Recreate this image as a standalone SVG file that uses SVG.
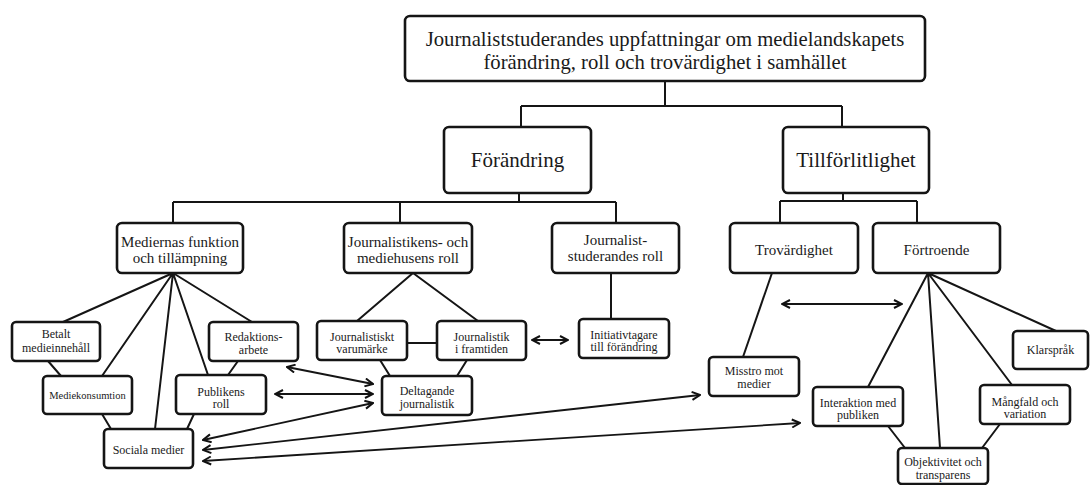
<svg xmlns="http://www.w3.org/2000/svg" width="1092" height="485" viewBox="0 0 1092 485">
<defs>
<marker id="ah" viewBox="0 0 10 10" refX="9" refY="5" markerWidth="10" markerHeight="10" markerUnits="userSpaceOnUse" orient="auto-start-reverse">
<path d="M1 1 L9 5 L1 9" fill="none" stroke="#111" stroke-width="2"/>
</marker>
<style>
.b{fill:#fff;stroke:#151515;stroke-width:2.6}
.c{fill:none;stroke:#151515;stroke-width:2}
.a{fill:none;stroke:#151515;stroke-width:1.8;marker-start:url(#ah);marker-end:url(#ah)}
text{font-family:"Liberation Serif","Times New Roman",serif;fill:#1a1a1a;text-anchor:middle}
.t0{font-size:20.7px}
.t1{font-size:21px}
.t2{font-size:15px}
.t3{font-size:12px}
</style>
</defs>
<rect width="1092" height="485" fill="#fff"/>
<g id="connectors">
<path class="c" d="M665 81V106M521 106H842M521 106V127M842 106V127"/>
<path class="c" d="M519 193V202M173 202H616M173 202V223M400 202V223M616 202V223"/>
<path class="c" d="M843 193V201M780 201H917M780 201V223M917 201V223"/>
<path class="c" d="M173 273L63 322M173 273L102 376M173 273L155 429M173 273L208 375M173 273L252 322M48 361L61 376M238 361L228 375M102 414L111 429M194 414L187 429"/>
<path class="c" d="M413 273L357 321M413 273L478 321M407 343H437M380 360L390 376M467 360L457 376"/>
<path class="c" d="M611 273V319"/>
<path class="c" d="M772 273L743 357"/>
<path class="c" d="M928 273L868 387M928 273L940 448M928 273L1012 385M928 273L1056 331M888 426L905 448M1000 424L982 448"/>
<path class="a" d="M287 367L373 384"/>
<path class="a" d="M275 394L373 394"/>
<path class="a" d="M203 440L373 403"/>
<path class="a" d="M203 450L700 395"/>
<path class="a" d="M203 461L800 423"/>
<path class="a" d="M532 340L568 340"/>
<path class="a" d="M782 304L902 304"/>
</g>
<g id="n-title"><rect class="b" x="405" y="16" width="520" height="65" rx="5"/><text class="t0" x="665" y="46">Journaliststuderandes uppfattningar om medielandskapets</text><text class="t0" x="665" y="69">förändring, roll och trovärdighet i samhället</text></g>
<g id="n-forandring"><rect class="b" x="444" y="127" width="147" height="66" rx="5"/><text class="t1" x="517.5" y="167">Förändring</text></g>
<g id="n-tillforlitlighet"><rect class="b" x="783" y="127" width="146" height="66" rx="5"/><text class="t1" x="856" y="167">Tillförlitlighet</text></g>
<g id="n-mediernas"><rect class="b" x="117" y="223" width="126" height="50" rx="5"/><text class="t2" x="180" y="247">Mediernas funktion</text><text class="t2" x="180" y="263">och tillämpning</text></g>
<g id="n-journalistikens"><rect class="b" x="344" y="223" width="128" height="50" rx="5"/><text class="t2" x="408" y="247">Journalistikens- och</text><text class="t2" x="408" y="263">mediehusens roll</text></g>
<g id="n-studerandes"><rect class="b" x="552" y="223" width="127" height="50" rx="5"/><text class="t2" x="615.5" y="245">Journalist-</text><text class="t2" x="615.5" y="261">studerandes roll</text></g>
<g id="n-trovardighet"><rect class="b" x="730" y="223" width="128" height="50" rx="5"/><text class="t2" x="794" y="255">Trovärdighet</text></g>
<g id="n-fortroende"><rect class="b" x="873" y="223" width="127" height="50" rx="5"/><text class="t2" x="936.5" y="255">Förtroende</text></g>
<g id="n-betalt"><rect class="b" x="12" y="322" width="88" height="39" rx="4"/><text class="t3" x="56" y="338">Betalt</text><text class="t3" x="56" y="352">medieinnehåll</text></g>
<g id="n-mediekonsumtion"><rect class="b" x="43" y="376" width="89" height="38" rx="4"/><text class="t3" x="87.5" y="399" style="font-size:10.5px">Mediekonsumtion</text></g>
<g id="n-redaktion"><rect class="b" x="209" y="322" width="89" height="39" rx="4"/><text class="t3" x="253.5" y="341">Redaktions-</text><text class="t3" x="253.5" y="354">arbete</text></g>
<g id="n-publikens"><rect class="b" x="176" y="375" width="90" height="39" rx="4"/><text class="t3" x="221" y="396">Publikens</text><text class="t3" x="221" y="408">roll</text></g>
<g id="n-sociala"><rect class="b" x="104" y="429" width="89" height="39" rx="4"/><text class="t3" x="148.5" y="454">Sociala medier</text></g>
<g id="n-varumarke"><rect class="b" x="317" y="321" width="90" height="39" rx="4"/><text class="t3" x="362" y="341">Journalistiskt</text><text class="t3" x="362" y="353">varumärke</text></g>
<g id="n-framtiden"><rect class="b" x="437" y="321" width="89" height="39" rx="4"/><text class="t3" x="481.5" y="341">Journalistik</text><text class="t3" x="481.5" y="353">i framtiden</text></g>
<g id="n-deltagande"><rect class="b" x="382" y="376" width="90" height="39" rx="4"/><text class="t3" x="427" y="395">Deltagande</text><text class="t3" x="427" y="408">journalistik</text></g>
<g id="n-initiativ"><rect class="b" x="579" y="319" width="90" height="39" rx="4"/><text class="t3" x="624" y="339">Initiativtagare</text><text class="t3" x="624" y="351">till förändring</text></g>
<g id="n-misstro"><rect class="b" x="709" y="357" width="90" height="39" rx="4"/><text class="t3" x="754" y="375">Misstro mot</text><text class="t3" x="754" y="388">medier</text></g>
<g id="n-klarsprak"><rect class="b" x="1013" y="331" width="75" height="38" rx="4"/><text class="t3" x="1050.5" y="354">Klarspråk</text></g>
<g id="n-interaktion"><rect class="b" x="813" y="387" width="90" height="39" rx="4"/><text class="t3" x="858" y="407">Interaktion med</text><text class="t3" x="858" y="419">publiken</text></g>
<g id="n-mangfald"><rect class="b" x="980" y="385" width="90" height="39" rx="4"/><text class="t3" x="1025" y="406">Mångfald och</text><text class="t3" x="1025" y="418">variation</text></g>
<g id="n-objektivitet"><rect class="b" x="898" y="448" width="90" height="36" rx="4"/><text class="t3" x="943" y="466">Objektivitet och</text><text class="t3" x="943" y="479">transparens</text></g>
</svg>
